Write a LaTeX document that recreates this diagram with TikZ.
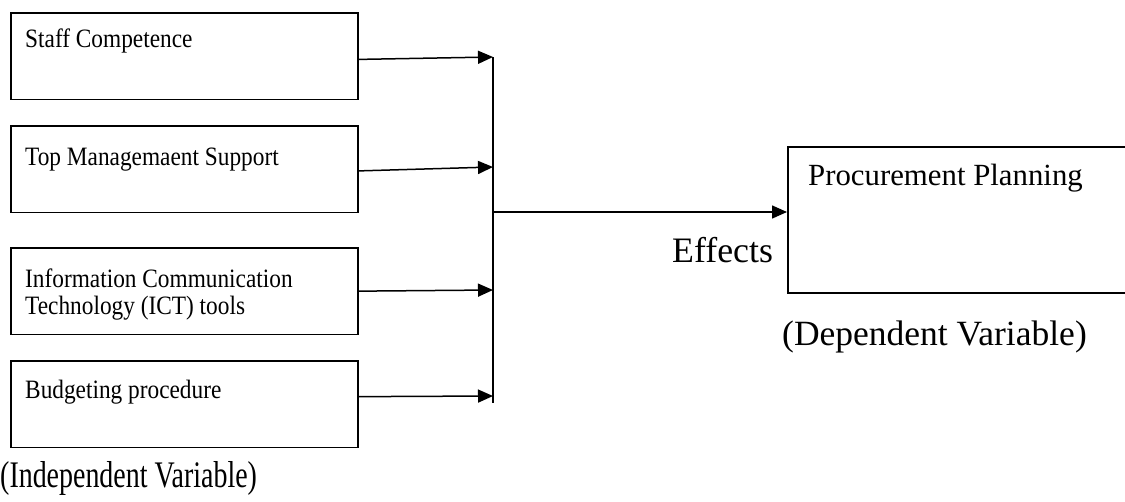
\documentclass[tikz,border=0pt]{standalone}
\usepackage{fontspec}
\setmainfont{Liberation Serif}
\newfontfamily\narrowserif[FakeStretch=0.745]{Liberation Serif}
\newfontfamily\boxserif[FakeStretch=0.88]{Liberation Serif}
\usetikzlibrary{arrows.meta}

\begin{document}
\begin{tikzpicture}[x=1pt, y=-1pt,
		varbox/.style={draw, line width=1.8pt, anchor=north west, inner sep=0pt, minimum width=347pt, minimum height=86.5pt},
		vartext/.style={anchor=base west, inner sep=0pt, align=left, font=\boxserif\fontsize{26.5}{27.5}\selectfont},
		flow/.style={line width=1.5pt, -{Triangle[length=15pt, width=13pt]}}]
	\useasboundingbox (0,0) rectangle (1125,501);
	\node[varbox] (staff) at (10,12) {};
	\node[varbox] (mgmt) at (10,125) {};
	\node[varbox] (ict) at (10,247) {};
	\node[varbox] (budget) at (10,360) {};
	\node[vartext] (staff text) at (25,47) {Staff Competence};
	\node[vartext] (mgmt text) at (25,165) {Top Managemaent Support};
	\node[vartext] (ict text) at (25,314.5) {Information Communication\\Technology (ICT) tools};
	\node[vartext] (budget text) at (25,398) {Budgeting procedure};
	\node[draw, line width=1.8pt, anchor=north west, inner sep=0pt, minimum width=360pt, minimum height=146pt] (plan) at (787,146) {};
	\node[vartext, font=\fontsize{30.8}{36}\selectfont] (plan text) at (808,185) {Procurement Planning};
	\node[vartext, font=\fontsize{35.8}{40}\selectfont] (effects) at (672,262) {Effects};
	\node[vartext, font=\fontsize{35.5}{40}\selectfont] (dependent) at (782,345) {(Dependent Variable)};
	\node[vartext, font=\narrowserif\fontsize{37.5}{44}\selectfont] (independent) at (0,487) {(Independent Variable)};
	\coordinate (bus top) at (493,57);
	\coordinate (bus mgmt) at (493,167);
	\coordinate (bus out) at (493,212);
	\coordinate (bus ict) at (493,290);
	\coordinate (bus budget) at (493,396);
	\coordinate (bus end) at (493,403);
	\draw[line width=1.5pt] (bus top) -- (bus end);
	\draw[flow] ([yshift=-3.25pt]staff.east) -- (bus top);
	\draw[flow] ([yshift=-1.75pt]mgmt.east) -- (bus mgmt);
	\draw[flow] (ict.east) -- (bus ict);
	\draw[flow] ([yshift=7.5pt]budget.east) -- (bus budget);
	\draw[flow] (bus out) -- (bus out -| plan.west);
\end{tikzpicture}
\end{document}
